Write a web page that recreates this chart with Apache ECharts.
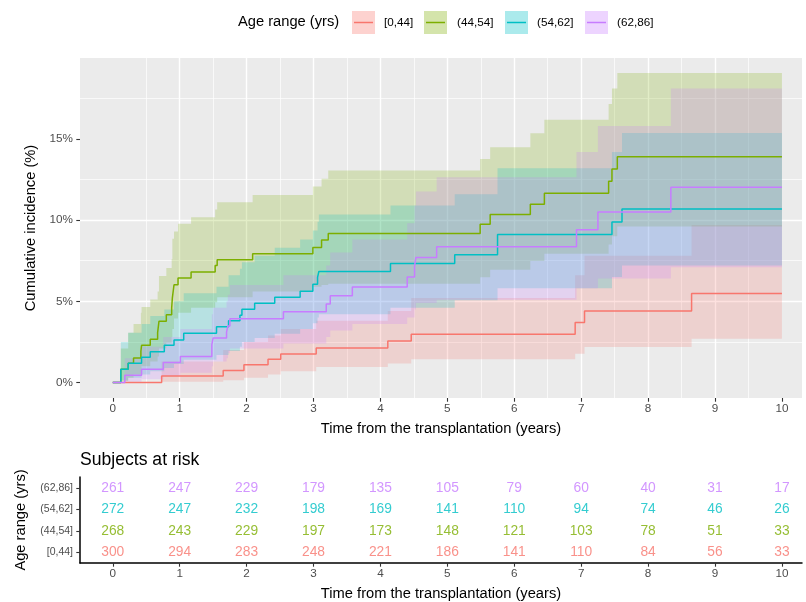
<!DOCTYPE html>
<html><head><meta charset="utf-8">
<script src="https://cdn.jsdelivr.net/npm/echarts@6/dist/echarts.min.js"></script>
<style>html,body{margin:0;padding:0;background:#fff}#c{width:806px;height:602px}</style>
</head><body><div id="c"></div>
<script>
// ---------- data ----------
const groups = ['[0,44]', '(44,54]', '(54,62]', '(62,86]'];
const colors = ['#F8766D', '#7CAE00', '#00BFC4', '#C77CFF'];

const t_0_44   = [0, 0.73, 1.65, 1.96, 2.32, 2.51, 3.04, 4.11, 4.46, 6.91, 7.05, 8.65, 10];
const est_0_44 = [0, 0.41, 0.74, 1.10, 1.43, 1.76, 2.13, 2.56, 2.97, 3.69, 4.41, 5.49, 5.49];
const lo_0_44  = [0, 0.05, 0.15, 0.30, 0.49, 0.70, 0.96, 1.17, 1.43, 1.78, 2.19, 2.70, 2.70];
const hi_0_44  = [0, 1.3, 2.0, 2.5, 2.9, 3.3, 3.8, 4.4, 5.2, 6.6, 7.8, 9.7, 9.7];

const t_44_54   = [0, 0.12, 0.23, 0.31, 0.42, 0.43, 0.56, 0.67, 0.69, 0.80, 0.88, 0.89, 0.915, 0.975, 1.17, 1.53, 1.56, 2.09, 2.99, 3.12, 3.22, 5.49, 5.64, 6.24, 6.45, 7.41, 7.46, 7.54, 10];
const est_44_54 = [0, 0.82, 1.19, 1.52, 1.93, 2.29, 2.66, 3.07, 3.77, 4.18, 4.59, 5.20, 6.02, 6.43, 6.80, 7.21, 7.56, 7.93, 8.32, 8.77, 9.18, 9.75, 10.35, 10.98, 11.66, 12.40, 13.15, 13.90, 13.90];
const lo_44_54  = [0, 0.10, 0.30, 0.50, 0.75, 1.00, 1.30, 1.60, 2.10, 2.45, 2.80, 3.30, 3.95, 4.30, 4.60, 4.95, 5.25, 5.60, 5.90, 6.00, 6.08, 6.49, 6.94, 7.48, 7.93, 8.50, 9.00, 9.60, 9.60];
const hi_44_54  = [0, 2.1, 3.07, 3.6, 4.3, 4.65, 5.12, 5.6, 6.56, 7.05, 7.6, 8.85, 9.3, 9.77, 10.18, 10.65, 11.1, 11.55, 12.07, 12.54, 13.05, 13.77, 14.49, 15.35, 16.18, 17.15, 18.1, 19.05, 19.05];

const t_54_62   = [0, 0.12, 0.23, 0.43, 0.56, 0.77, 0.915, 1.06, 1.55, 1.73, 1.90, 1.93, 2.12, 2.42, 2.80, 2.99, 3.06, 3.08, 4.15, 5.11, 5.75, 7.46, 7.61, 10];
const est_54_62 = [0, 0.82, 1.19, 1.56, 1.89, 2.29, 2.62, 3.03, 3.44, 3.81, 4.14, 4.51, 4.88, 5.25, 5.62, 6.06, 6.48, 6.84, 7.33, 7.87, 9.12, 9.88, 10.68, 10.68];
const lo_54_62  = [0, 0.15, 0.30, 0.50, 0.70, 0.90, 1.15, 1.40, 1.70, 1.95, 2.20, 2.50, 2.75, 3.00, 3.30, 3.65, 4.00, 4.20, 4.60, 5.06, 5.80, 6.50, 7.20, 7.20];
const hi_54_62  = [0, 2.5, 3.07, 3.6, 4.1, 4.5, 5.0, 5.5, 5.9, 6.6, 7.0, 7.4, 7.8, 8.3, 8.8, 9.36, 9.9, 10.35, 10.9, 11.6, 13.2, 14.2, 15.37, 15.37];

const t_62_86   = [0, 0.18, 0.43, 0.755, 1.01, 1.48, 1.50, 1.70, 1.72, 1.75, 2.55, 3.19, 3.25, 3.58, 4.40, 4.51, 4.53, 4.84, 6.93, 7.25, 8.34, 10];
const est_62_86 = [0, 0.45, 0.82, 1.23, 1.60, 2.34, 2.75, 3.10, 3.48, 3.93, 4.36, 4.83, 5.35, 5.88, 6.50, 7.17, 7.70, 8.36, 9.40, 10.50, 12.03, 12.03];
const lo_62_86  = [0, 0.05, 0.20, 0.40, 0.60, 1.00, 1.30, 1.50, 1.80, 2.10, 2.40, 2.80, 3.20, 3.60, 4.00, 4.50, 4.90, 5.10, 5.80, 6.40, 7.10, 7.10];
const hi_62_86  = [0, 1.5, 2.2, 2.8, 3.3, 4.2, 4.6, 5.0, 5.4, 6.0, 6.6, 7.2, 8.0, 8.8, 9.8, 10.9, 11.76, 12.64, 14.2, 15.8, 18.1, 18.1];

const yTicks = [0, 5, 10, 15];
const xTicks = [0, 1, 2, 3, 4, 5, 6, 7, 8, 9, 10];

const riskTimes = [0, 1, 2, 3, 4, 5, 6, 7, 8, 9, 10];
const risk_0_44  = [300, 294, 283, 248, 221, 186, 141, 110, 84, 56, 33];
const risk_44_54 = [268, 243, 229, 197, 173, 148, 121, 103, 78, 51, 33];
const risk_54_62 = [272, 247, 232, 198, 169, 141, 110, 94, 74, 46, 26];
const risk_62_86 = [261, 247, 229, 179, 135, 105, 79, 60, 40, 31, 17];

// ---------- build ----------
const curves = [
  {t: t_0_44, est: est_0_44, lo: lo_0_44, hi: hi_0_44},
  {t: t_44_54, est: est_44_54, lo: lo_44_54, hi: hi_44_54},
  {t: t_54_62, est: est_54_62, lo: lo_54_62, hi: hi_54_62},
  {t: t_62_86, est: est_62_86, lo: lo_62_86, hi: hi_62_86}
];
const risks = [risk_0_44, risk_44_54, risk_54_62, risk_62_86];

function rgba(hex, a) {
  const r = parseInt(hex.slice(1, 3), 16), g = parseInt(hex.slice(3, 5), 16), b = parseInt(hex.slice(5, 7), 16);
  return 'rgba(' + r + ',' + g + ',' + b + ',' + a + ')';
}
const BAND_A = 0.22;
const FONT = '"Liberation Sans", Arial, sans-serif';

const series = [];
curves.forEach((c, g) => {
  series.push({
    type: 'custom',
    xAxisIndex: 0, yAxisIndex: 0,
    silent: true, z: 1,
    encode: {x: 0, y: [1, 2]},
    data: c.t.map((t, i) => [t, c.lo[i], c.hi[i]]),
    renderItem: function (params, api) {
      if (params.dataIndexInside !== 0) return null;
      const n = params.dataInsideLength;
      const up = [], lo = [];
      for (let i = 0; i < n; i++) {
        const t = api.value(0, i), l = api.value(1, i), h = api.value(2, i);
        const tn = i < n - 1 ? api.value(0, i + 1) : t;
        up.push(api.coord([t, h]), api.coord([tn, h]));
        lo.push(api.coord([t, l]), api.coord([tn, l]));
      }
      return {type: 'polygon', shape: {points: up.concat(lo.reverse())}, style: {fill: rgba(colors[g], BAND_A)}};
    }
  });
});
curves.forEach((c, g) => {
  series.push({
    type: 'line', xAxisIndex: 0, yAxisIndex: 0, step: 'end', z: 3,
    showSymbol: false, symbol: 'none',
    data: c.t.map((t, i) => [t, c.est[i]]),
    lineStyle: {color: colors[g], width: 1.5},
    itemStyle: {color: colors[g]}
  });
});
risks.forEach((r, g) => {
  series.push({
    type: 'scatter', xAxisIndex: 1, yAxisIndex: 1, symbolSize: 1,
    itemStyle: {color: 'rgba(0,0,0,0)'},
    data: riskTimes.map((t, j) => [t, groups[g], r[j]]),
    label: {show: true, position: 'inside', formatter: p => String(p.value[2]),
            color: colors[g], fontSize: 13.8, fontFamily: FONT}
  });
});

// legend (drawn as graphic)
const keyX = [352, 424, 505, 585];
const labX = [384, 457, 537, 617];
const graphic = [
  {type: 'text', x: 238, y: 22, style: {text: 'Age range (yrs)', font: '14.7px ' + FONT, fill: '#000', verticalAlign: 'middle'}},
  {type: 'text', x: 80, y: 460, style: {text: 'Subjects at risk', font: '17.6px ' + FONT, fill: '#000', verticalAlign: 'middle'}}
];
groups.forEach((name, g) => {
  graphic.push({type: 'rect', shape: {x: keyX[g], y: 11, width: 23, height: 23}, style: {fill: rgba(colors[g], 0.33)}});
  graphic.push({type: 'line', shape: {x1: keyX[g] + 2, y1: 22.5, x2: keyX[g] + 21, y2: 22.5}, style: {stroke: colors[g], lineWidth: 1.5}});
  graphic.push({type: 'text', x: labX[g], y: 22.5, style: {text: name, font: '11.7px ' + FONT, fill: '#000', verticalAlign: 'middle'}});
});

const gridLineMajor = {show: true, showMinLine: false, showMaxLine: false, lineStyle: {color: '#FFFFFF', width: 1.4}};
const gridLineMinor = {show: true, lineStyle: {color: '#FFFFFF', width: 0.7}};

const option = {
  animation: false,
  backgroundColor: '#FFFFFF',
  textStyle: {fontFamily: FONT},
  graphic: graphic,
  grid: [
    {left: 80, top: 58, width: 722, height: 340, show: true, backgroundColor: '#EBEBEB', borderWidth: 0},
    {left: 80, top: 477, width: 722, height: 86, show: false}
  ],
  xAxis: [
    {gridIndex: 0, type: 'value', min: -0.49, max: 10.3, splitNumber: 10, position: 'bottom',
     axisLine: {show: false, onZero: false},
     axisTick: {show: true, customValues: xTicks, length: 3.7, lineStyle: {color: '#333333', width: 1.1}},
     axisLabel: {customValues: xTicks, color: '#4D4D4D', fontSize: 11.7, margin: 5},
     splitLine: gridLineMajor,
     minorTick: {show: false, splitNumber: 2},
     minorSplitLine: gridLineMinor,
     name: 'Time from the transplantation (years)', nameLocation: 'middle', nameGap: 23,
     nameTextStyle: {color: '#000', fontSize: 14.7}},
    {gridIndex: 1, type: 'value', min: -0.49, max: 10.3, splitNumber: 10, position: 'bottom',
     axisLine: {show: true, onZero: false, lineStyle: {color: '#000', width: 1.5}},
     axisTick: {show: true, customValues: xTicks, length: 3.7, lineStyle: {color: '#333333', width: 1.1}},
     axisLabel: {customValues: xTicks, color: '#4D4D4D', fontSize: 11.7, margin: 5},
     splitLine: {show: false},
     name: 'Time from the transplantation (years)', nameLocation: 'middle', nameGap: 23,
     nameTextStyle: {color: '#000', fontSize: 14.7}}
  ],
  yAxis: [
    {gridIndex: 0, type: 'value', min: -0.95, max: 19.98, splitNumber: 4, position: 'left',
     axisLine: {show: false, onZero: false},
     axisTick: {show: true, customValues: yTicks, length: 3.7, lineStyle: {color: '#333333', width: 1.1}},
     axisLabel: {customValues: yTicks, formatter: '{value}%', color: '#4D4D4D', fontSize: 11.7, margin: 7},
     splitLine: gridLineMajor,
     minorTick: {show: false, splitNumber: 2},
     minorSplitLine: gridLineMinor,
     name: 'Cumulative incidence (%)', nameLocation: 'middle', nameGap: 31, nameRotate: 90,
     nameTextStyle: {color: '#000', fontSize: 14.7}},
    {gridIndex: 1, type: 'category', data: groups, position: 'left',
     axisLine: {show: true, onZero: false, lineStyle: {color: '#000', width: 1.5}},
     axisTick: {show: true, alignWithLabel: true, length: 3.7, lineStyle: {color: '#333333', width: 1.1}},
     axisLabel: {color: '#4D4D4D', fontSize: 10.5, margin: 7},
     splitLine: {show: false},
     name: 'Age range (yrs)', nameLocation: 'middle', nameGap: 52, nameRotate: 90,
     nameTextStyle: {color: '#000', fontSize: 14.7}}
  ],
  series: series
};

const chart = echarts.init(document.getElementById('c'), null, {renderer: 'canvas'});
chart.setOption(option);
</script>
</body></html>
